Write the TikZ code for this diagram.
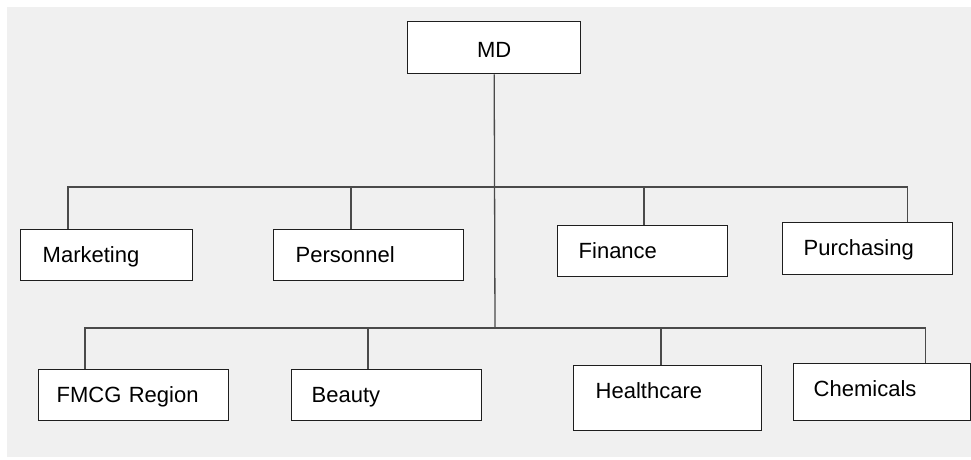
\documentclass[tikz,border=0pt]{standalone}
\usepackage{fontspec}
\setmainfont{Liberation Sans}
\usetikzlibrary{calc}
\definecolor{Back}{HTML}{F0F0F0}
\definecolor{Edge}{HTML}{1E1E1E}
\definecolor{Wire}{HTML}{4A4A4A}

\begin{document}
\begin{tikzpicture}[x=1pt,y=-1pt,font=\fontsize{22}{24}\selectfont,
    unit/.style={draw=Edge,fill=white,line width=1.4pt,anchor=north west,inner ysep=0pt,align=left},
    link/.style={draw=Wire,line width=1.3pt}]
        \useasboundingbox (0,0) rectangle (971,459);
        \fill[Back] (7,7) rectangle (971,457);
        \node[unit,inner xsep=0pt,text width=173pt,align=center,text height=36pt,text depth=16pt] (md) at (407,21) {MD};
        \foreach \name/\x/\y/\w/\h/\off/\txt in {mkt/20/229/172/51/22/Marketing,per/273/229/190/51/22/Personnel,
            fin/557/225/170/51/21/Finance,pur/782/222/170/52/21/Purchasing,
            fmcg/38/369/190/51/18/FMCG Region,bea/291/369/190/51/20/Beauty,
            hea/573/365/188/65/22/Healthcare,che/793/363/177/57/20/Chemicals}{
          \pgfmathsetmacro\tw{\w-2*\off}
          \pgfmathsetmacro\td{\h-33}
          \node[unit,inner xsep=\off pt,text width=\tw pt,text height=33pt,text depth=\td pt] (\name) at (\x,\y) {\txt};}
        \coordinate (ub) at (495,187);
        \coordinate (lb) at (495,328);
        \draw[link] (md.south) -- (lb);
        % upper row
        \draw[link] ([xshift=48pt]mkt.north west) |- (ub);
        \draw[link] ([xshift=78pt]per.north west) |- (ub);
        \draw[link] ([xshift=87pt]fin.north west) |- (ub);
        \draw[link] ([xshift=-46pt]pur.north east) |- (ub);
        % lower row
        \draw[link] ([xshift=47pt]fmcg.north west) |- (lb);
        \draw[link] ([xshift=77pt]bea.north west) |- (lb);
        \draw[link] ([xshift=88pt]hea.north west) |- (lb);
        \draw[link] ([xshift=-46pt]che.north east) |- (lb);
      \end{tikzpicture}
\end{document}
